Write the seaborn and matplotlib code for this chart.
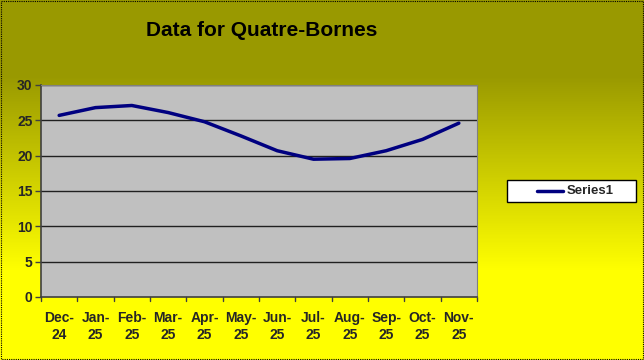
import numpy as np
import pandas as pd
import matplotlib
matplotlib.use("Agg")
import matplotlib.pyplot as plt
import seaborn as sns
from matplotlib.colors import LinearSegmentedColormap
from matplotlib.patches import Rectangle

months = ["Dec-\n24", "Jan-\n25", "Feb-\n25", "Mar-\n25", "Apr-\n25", "May-\n25",
          "Jun-\n25", "Jul-\n25", "Aug-\n25", "Sep-\n25", "Oct-\n25", "Nov-\n25"]
series1 = [25.7, 26.8, 27.1, 26.1, 24.8, 22.8, 20.7, 19.5, 19.6, 20.7, 22.3, 24.6]
yticks = [0, 5, 10, 15, 20, 25, 30]
title = "Data for Quatre-Bornes"

sns.set_theme(style="white")
plt.rcParams['font.family'] = ['Liberation Sans', 'DejaVu Sans']

W, H = 644, 360
fig = plt.figure(figsize=(W / 100, H / 100), dpi=100)

# background gradient
bg = fig.add_axes([0, 0, 1, 1], zorder=-10)
rows = np.arange(H)
t = np.clip((rows - 75) / (270 - 75), 0, 1)
grad = np.tile(t[:, None], (1, W))
cmap = LinearSegmentedColormap.from_list("oy", ["#999900", "#FFFF00"])
bg.imshow(grad, cmap=cmap, aspect="auto", extent=[0, W, H, 0], vmin=0, vmax=1)
bg.set_xlim(0, W)
bg.set_ylim(H, 0)
bg.axis("off")
bg.add_patch(Rectangle((0.5, 0.5), W - 1.5, H - 1.5, fill=False, ec="black",
                       lw=0.8, ls=(0, (1, 1))))

left, right, top, bottom = 41, 477, 85, 297
ax = fig.add_axes([left / W, 1 - bottom / H, (right - left) / W, (bottom - top) / H])
ax.set_facecolor("#C0C0C0")

df = pd.DataFrame({"Month": months, "Value": series1, "Series": "Series1"})
df["x"] = np.arange(len(months))
sns.lineplot(data=df, x="x", y="Value", ax=ax, color="#000080", lw=2.5,
             legend=False, sort=False)

ax.set_xlim(-0.5, len(months) - 0.5)
ax.set_ylim(0, 30)
ax.set_yticks(yticks)
ax.set_yticklabels([str(v) for v in yticks], fontsize=10, fontweight="bold")
ax.set_xticks(np.arange(len(months)))
ax.set_xticklabels(months, fontsize=10, fontweight="bold", linespacing=1.3)
ax.tick_params(axis="x", length=0, pad=10)
ax.tick_params(axis="y", length=4, width=1, color="#404040", pad=2, left=True)
for b in np.arange(-0.5, len(months), 1):
    ax.plot([b, b], [0, -0.6], color="#404040", lw=1, clip_on=False)
for y in yticks[1:]:
    ax.axhline(y, color="#202020", lw=1, zorder=1)
ax.set_xlabel("")
ax.set_ylabel("")
for s in ["top", "right"]:
    ax.spines[s].set_visible(True)
    ax.spines[s].set_color("#808080")
    ax.spines[s].set_linewidth(0.8)
for s in ["left", "bottom"]:
    ax.spines[s].set_color("#404040")
    ax.spines[s].set_linewidth(1.2)

fig.text(262 / W, 1 - 30 / H, title, ha="center", va="center",
         fontsize=15, fontweight="bold", color="black")

# legend box
lx0, ly0, lx1, ly1 = 507, 180, 636, 202
bg.add_patch(Rectangle((lx0, ly0), lx1 - lx0, ly1 - ly0, fc="white", ec="black", lw=1))
bg.plot([537, 563], [191, 191], color="#000080", lw=2.5)
bg.text(567, 191, "Series1", ha="left", va="center", fontsize=9.5, fontweight="bold")

fig.savefig("out.png", dpi=100)
